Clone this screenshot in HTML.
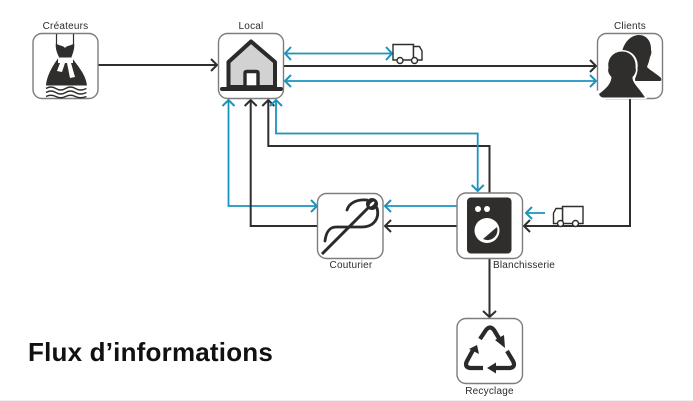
<!DOCTYPE html>
<html><head><meta charset="utf-8"><style>
html,body{margin:0;padding:0;background:#fff}
body{width:693px;height:401px;overflow:hidden}
svg{display:block}
text{font-family:"Liberation Sans",sans-serif;fill:#2b2b2b}
.b{fill:#fff;stroke:#7d7d7d;stroke-width:1.4}
.k{fill:none;stroke:#2f2e2d;stroke-width:2}
.c{fill:none;stroke:#1a94bd;stroke-width:1.8}
.ah{fill:none;stroke:#2f2e2d;stroke-width:2}
.bh{fill:none;stroke:#1a94bd;stroke-width:2}
</style></head><body>
<svg width="693" height="401" viewBox="0 0 693 401" xmlns="http://www.w3.org/2000/svg">
<rect width="693" height="401" fill="#fff"/>
<rect x="0" y="400" width="693" height="1" fill="#efefef"/>

<!-- connectors -->
<path class="k" d="M98 65H217"/><path class="ah" d="M211 59l6 6-6 6"/>
<path class="c" d="M285 53.500H392"/><path class="bh" d="M291 47l-6 6.500 6 6.500M386 47l6 6.500-6 6.500"/>
<path class="k" d="M284 66H596"/><path class="ah" d="M590 60l6 6-6 6"/>
<path class="c" d="M285 81H596"/><path class="bh" d="M291 75l-6 6 6 6M590 75l6 6-6 6"/>
<path class="k" d="M630 99V226H524"/><path class="ah" d="M530 220l-6 6 6 6"/>
<path class="c" d="M545 213H526"/><path class="bh" d="M532 207l-6 6 6 6"/>
<path class="c" d="M457 206H385"/><path class="bh" d="M391 200l-6 6 6 6"/>
<path class="k" d="M457 226H385"/><path class="ah" d="M391 220l-6 6 6 6"/>
<path class="c" d="M317 206H228.500V100"/><path class="bh" d="M311 200l6 6-6 6M222.500 106l6-6 6 6"/>
<path class="k" d="M317 226H250.700V100"/><path class="ah" d="M244.700 106l6-6 6 6"/>
<path class="k" d="M489.500 193V146H268.300V100"/><path class="ah" d="M262.300 106l6-6 6 6"/>
<path class="c" d="M276 100V133.500H477.700V191"/><path class="bh" d="M270 106l6-6 6 6M471.700 185l6 6 6-6"/>
<path class="k" d="M489.500 259V317"/><path class="ah" d="M483 311l6.500 6 6.500-6"/>

<!-- boxes -->
<rect class="b" x="33" y="33.500" width="65" height="65" rx="9"/>
<rect class="b" x="218.500" y="33.500" width="65" height="65" rx="9"/>
<rect class="b" x="597.500" y="33.500" width="65" height="65" rx="9"/>
<rect class="b" x="317.500" y="193.500" width="65.500" height="65" rx="9"/>
<rect class="b" x="457" y="193" width="65.500" height="65.500" rx="9"/>
<rect class="b" x="457" y="318.500" width="65.500" height="65" rx="9"/>

<!-- dress -->
<path d="M56.500 34V46M73.500 34V46" stroke="#2f2e2d" stroke-width="1.200" fill="none"/>
<path d="M56 43C58 46 63 45 65 48C67 45 72 46 74 43C75 48 73 53 71.500 57C76 64 86 74 87 85.500H46C47 74 54 64 59 57C57 53 55 48 56 43Z" fill="#2f2e2d"/>
<path d="M58 57.500H73V63H71L75 77L70 78L67 63H65L62 72L57 71L60 63H58Z" fill="#fff"/>
<path d="M46 88.500q4.900-3 9.800 0t9.800 0 9.800 0 11 0M46 92.500q4.900-3 9.800 0t9.800 0 9.800 0 11 0M46 96.500q4.900-2.500 9.800 0t9.800 0 9.800 0 11 0" fill="none" stroke="#2f2e2d" stroke-width="1.400"/>

<!-- house -->
<path d="M228.500 87V62L251 41.500L275 62V87Z" fill="#d2d2d2" stroke="#2b2a29" stroke-width="4" stroke-linejoin="round"/>
<path d="M245 87V73Q245 71.500 247 71.500H256Q258 71.500 258 73V87Z" fill="#fff" stroke="#2b2a29" stroke-width="3.400"/>
<rect x="220" y="87" width="63" height="4" rx="2" fill="#2b2a29"/>

<!-- clients -->
<path d="M639 35C647 35 651.500 42 651 50C652 52 651 55 650 57C649 62 648 64 647 67C651 71 657 74 661 78Q662 81 660 81H630L622 52C624 42 631 35 639 35Z" fill="#2f2e2d"/>
<path d="M622 50C632 50 639 58 637.500 68C638 72 636 76 635 79C635 83 640 88 648 97L646 99H600L596 92C600 88 609 84 609 79C607 76 606 72 606.500 68C605 58 612 50 622 50Z" fill="#fff"/>
<path d="M622 51.500C631 51.500 636.500 59 635.500 68C636.500 70 635.500 74 632.500 77C632 83 640 89 645 97.500H603Q600 97 599 94C604 90 611 85 611.500 77C608.500 74 607.500 71 608.500 68C607 59 613 51.500 622 51.500Z" fill="#2f2e2d"/>

<!-- needle -->
<path d="M322 254L372 204" stroke="#2b2a29" stroke-width="3" fill="none"/>
<circle cx="372" cy="204" r="6" fill="#2b2a29"/>
<ellipse cx="372" cy="204" rx="3.200" ry="1.400" transform="rotate(-45 372 204)" fill="#fff"/>
<path d="M347 210C349 203 357 199 367 200M377 208C380 219 373 227 362 227L336 227C330 227 326 232 325 241" fill="none" stroke="#2b2a29" stroke-width="2.800" stroke-linecap="round"/>

<!-- washer -->
<rect x="467" y="197.500" width="44.500" height="56" rx="4" fill="#2f2e2d"/>
<circle cx="478" cy="209" r="3" fill="#fff"/><circle cx="487" cy="209" r="3" fill="#fff"/>
<circle cx="487" cy="230.500" r="12.500" fill="#fff"/>
<path d="M483 239L497 227A10 10 0 0 1 483 239Z" fill="#2f2e2d"/>

<!-- recycle -->
<g fill="none" stroke="#2b2a29" stroke-width="4.200">
<path d="M480 339L486 330Q490 325 494 330L500 340"/>
<path d="M507 351L513 361Q516 367 510 368H496"/>
<path d="M483 368H470Q464 367 467 361L473 350"/>
</g>
<path d="M495 340L504 335L505 348Z" fill="#2b2a29"/>
<path d="M487 368L496 362.500V373.500Z" fill="#2b2a29"/>
<path d="M477 345L469 349L479 354Z" fill="#2b2a29"/>

<!-- trucks -->
<g stroke="#2f2e2d" stroke-width="1.400" fill="#fff">
<path d="M393 44.500H413.500V60H393Z"/>
<path d="M413.500 46.500H419.500L422 51V60H413.500Z"/>
<circle cx="400" cy="60.500" r="3"/><circle cx="414.500" cy="60.500" r="3"/>
</g>
<g stroke="#2f2e2d" stroke-width="1.400" fill="#fff">
<path d="M562.500 206.500H583V223.500H562.500Z"/>
<path d="M562.500 208.500H556L553.500 213V223.500H562.500Z"/>
<circle cx="560.500" cy="223.500" r="3"/><circle cx="575.500" cy="223.500" r="3"/>
</g>

<!-- labels -->
<g font-size="10" letter-spacing=".2">
<text x="65.500" y="29" text-anchor="middle">Créateurs</text>
<text x="251" y="29" text-anchor="middle">Local</text>
<text x="630" y="29" text-anchor="middle">Clients</text>
<text x="351" y="268" text-anchor="middle">Couturier</text>
<text x="493" y="268">Blanchisserie</text>
<text x="489.500" y="394" text-anchor="middle">Recyclage</text>
</g>
<text x="28" y="361" font-size="26" font-weight="700" letter-spacing=".2" style="fill:#111">Flux d’informations</text>
</svg>
</body></html>
